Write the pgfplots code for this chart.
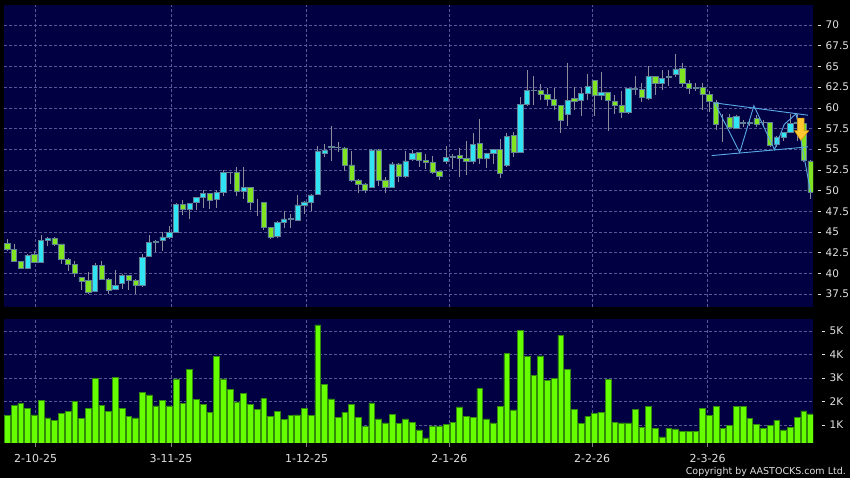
\documentclass[border=0pt]{standalone}
\usepackage{fontspec}
\setmainfont{DejaVu Sans}
\usepackage{pgfplots}
\usepackage{pgfplotstable}
\pgfplotsset{compat=1.18}

\definecolor{navy}{RGB}{0,0,66}
\definecolor{upc}{RGB}{48,228,244}
\definecolor{dnc}{RGB}{128,228,32}
\definecolor{edge}{RGB}{96,128,150}
\definecolor{wick}{RGB}{140,140,155}
\definecolor{gridc}{RGB}{88,88,150}
\definecolor{volc}{RGB}{102,255,0}
\definecolor{voledge}{RGB}{50,140,10}
\definecolor{patc}{RGB}{90,170,230}
\definecolor{labc}{RGB}{225,225,225}
\definecolor{arrowc}{RGB}{255,200,50}
\definecolor{arrowedge}{RGB}{210,140,0}

% i, open, high, low, close, volume (K)
\pgfplotstableread{
i o h l c v
0 43.67 44.15 42.66 42.86 1.41
1 42.94 43.59 41.40 41.45 1.84
2 41.49 41.55 40.50 40.60 1.92
3 40.60 42.30 40.50 42.22 1.71
4 42.30 42.74 41.30 41.33 1.43
5 41.33 44.64 41.25 44.03 2.04
6 43.99 44.40 43.27 44.27 1.30
7 44.27 44.44 43.35 43.51 1.21
8 43.55 43.60 41.13 41.73 1.50
9 41.73 41.80 40.32 41.05 1.58
10 41.13 41.53 39.56 40.04 2.01
11 39.56 39.60 38.02 39.03 1.28
12 39.15 40.20 37.54 37.70 1.72
13 37.82 41.25 37.70 41.01 2.99
14 41.01 41.53 39.23 39.31 1.84
15 39.31 39.40 37.54 37.94 1.58
16 38.10 40.44 38.00 38.59 3.01
17 38.83 39.90 38.10 39.72 1.70
18 39.72 39.75 38.02 39.15 1.37
19 39.15 39.30 37.54 38.51 1.30
20 38.51 42.33 38.40 41.94 2.39
21 42.10 44.60 42.00 43.74 2.28
22 43.75 44.00 42.60 43.85 1.81
23 43.95 44.95 42.75 44.40 2.06
24 44.31 45.70 44.20 44.94 1.81
25 44.94 48.50 44.90 48.33 2.96
26 48.31 48.83 47.10 47.70 1.92
27 47.70 48.50 46.53 48.43 3.38
28 48.55 49.20 47.70 49.15 2.09
29 49.15 50.12 47.94 49.64 1.88
30 49.64 49.70 47.74 48.79 1.55
31 48.91 50.04 47.94 49.76 3.91
32 49.76 52.46 49.30 52.18 2.96
33 52.20 52.30 50.77 52.24 2.50
34 52.18 52.82 49.35 49.88 1.98
35 49.88 52.82 48.99 50.36 2.33
36 50.36 50.40 47.62 48.55 1.88
37 48.55 48.95 46.94 48.55 1.68
38 48.55 48.60 45.20 45.52 2.13
39 45.52 45.60 44.20 44.40 1.35
40 44.43 46.30 44.30 46.17 1.57
41 46.13 47.58 45.50 46.57 1.24
42 46.55 47.18 45.50 46.62 1.40
43 46.45 49.48 46.30 48.27 1.43
44 48.27 48.80 47.18 48.63 1.72
45 48.63 49.60 47.50 49.48 1.41
46 49.60 55.40 49.50 54.80 5.26
47 54.52 55.65 54.03 54.92 2.74
48 55.25 57.86 53.63 55.30 2.11
49 55.20 55.93 54.64 55.25 1.31
50 55.16 55.30 52.42 53.10 1.55
51 53.10 54.84 51.00 51.21 1.88
52 51.29 51.40 49.72 50.81 1.33
53 50.81 50.93 49.72 50.00 0.93
54 50.40 55.00 50.30 54.92 1.94
55 54.92 55.00 50.60 51.21 1.26
56 51.29 51.60 49.72 50.40 1.09
57 50.40 53.50 50.30 53.23 1.45
58 53.23 53.30 51.00 51.73 1.06
59 51.73 54.84 51.50 53.59 1.26
60 53.75 54.90 53.60 54.48 1.11
61 54.60 54.70 52.86 53.63 0.79
62 53.67 54.40 52.58 53.39 0.45
63 53.39 54.20 52.06 52.18 0.96
64 52.34 52.40 51.25 51.77 0.93
65 53.56 55.36 53.19 54.03 1.01
66 54.00 54.40 52.60 54.10 1.11
67 54.23 55.20 51.65 53.85 1.77
68 53.90 55.97 51.85 53.51 1.35
69 53.55 56.90 53.27 55.56 1.33
70 55.69 58.63 53.27 53.87 2.56
71 53.87 54.60 52.74 54.48 1.26
72 54.44 55.00 53.19 54.96 1.09
73 54.96 56.29 51.57 52.14 1.78
74 53.02 56.90 52.90 56.57 4.04
75 56.65 57.10 54.00 54.60 1.64
76 54.60 61.25 54.50 60.40 5.01
77 60.40 64.56 60.20 62.10 3.91
78 62.05 63.83 60.32 62.15 3.10
79 62.10 62.90 61.00 61.60 3.94
80 61.63 62.43 60.22 61.06 2.89
81 61.06 62.40 59.75 60.26 2.97
82 60.26 60.30 56.92 58.53 4.82
83 59.25 65.37 57.80 60.91 3.38
84 61.13 62.46 59.72 60.81 1.68
85 60.89 62.34 59.03 61.73 1.06
86 61.73 64.07 60.93 62.54 1.37
87 63.31 63.35 59.03 61.45 1.51
88 61.49 64.27 60.93 61.85 1.54
89 61.85 61.90 57.22 60.89 2.93
90 60.77 61.60 59.27 60.28 1.11
91 60.28 62.00 58.80 59.40 1.09
92 59.40 62.40 59.30 62.38 1.09
93 62.20 63.83 61.53 62.30 1.68
94 62.22 62.94 60.73 61.25 0.90
95 61.13 65.04 61.00 63.75 1.78
96 63.75 63.80 61.53 62.94 0.87
97 62.94 64.56 62.14 63.55 0.49
98 63.70 64.56 62.66 63.80 0.84
99 64.03 66.49 63.75 64.70 0.83
100 64.76 65.36 62.46 62.94 0.72
101 62.94 63.30 61.70 62.34 0.72
102 62.45 63.00 62.00 62.40 0.72
103 62.42 62.94 59.72 61.65 1.72
104 61.61 62.00 59.50 60.73 1.41
105 60.60 60.90 57.30 58.02 1.78
106 58.10 59.30 55.90 58.10 0.87
107 58.83 59.30 57.50 57.62 0.99
108 57.50 59.10 57.40 58.91 1.78
109 58.20 58.50 57.70 58.15 1.79
110 58.15 58.60 57.80 58.25 1.28
111 58.71 59.10 57.70 58.02 1.03
112 58.25 58.50 57.80 58.20 0.84
113 58.19 58.30 55.30 55.48 0.99
114 55.60 56.60 55.30 56.49 1.21
115 56.49 57.10 56.00 57.02 0.79
116 57.02 59.23 56.90 58.10 0.90
117 58.30 59.20 56.00 58.10 1.33
118 58.10 58.20 53.50 53.67 1.60
119 53.59 53.70 49.03 49.84 1.47
}\stock

\newcommand\tk{\rule[3.4pt]{3pt}{0.7pt}\hspace{4.5pt}}

\pgfplotsset{
  panel/.style={at={(4pt,171pt)}, anchor=south west, scale only axis,
    width=809pt, height=302pt,
    xmin=-0.49, xmax=119.36, ymin=35.94, ymax=72.42},
  dashgrid/.style={grid=major,
    grid style={gridc, line width=0.6pt, dash pattern=on 2.5pt off 2.5pt}},
}

\begin{document}
\begin{tikzpicture}[x=1pt,y=1pt]
\fill[black] (0,0) rectangle (850,478);

% price panel: background, grid, wicks
\begin{axis}[panel, dashgrid,
  axis background/.style={fill=navy},
  axis line style={draw=none},
  tick style={draw=none},
  xtick={4.2,24.25,44.35,65.5,86.65,103.75},
  xticklabels={},
  ytick={37.5,40,42.5,45,47.5,50,52.5,55,57.5,60,62.5,65,67.5,70},
  yticklabels={\tk 37.5,\tk 40,\tk 42.5,\tk 45,\tk 47.5,\tk 50,\tk 52.5,\tk 55,\tk 57.5,\tk 60,\tk 62.5,\tk 65,\tk 67.5,\tk 70},
  yticklabel pos=right,
  yticklabel style={anchor=west, inner sep=0pt, xshift=5pt, text=labc,
    font=\fontsize{10.5}{12}\selectfont},
]
\addplot[wick, line width=1pt, quiver={u=0, v=\thisrow{h}-\thisrow{l}}]
  table[x=i, y=l] {\stock};
\end{axis}

% candle bodies
\begin{axis}[panel, axis lines=none, ybar stacked, bar width=5.3pt]
\addplot[draw=none, fill=none] table[x=i, y expr={min(\thisrow{o},\thisrow{c})}] {\stock};
\addplot[fill=upc, draw=edge, line width=0.7pt] table[x=i, y expr={max(\thisrow{c}-\thisrow{o},0)}] {\stock};
\addplot[fill=dnc, draw=edge, line width=0.7pt] table[x=i, y expr={max(\thisrow{o}-\thisrow{c},0)}] {\stock};
\end{axis}

% wedge pattern and signal arrow
\begin{axis}[panel, axis lines=none]
\addplot[patc, line width=0.9pt] coordinates {(104.74,60.6) (118.6,59.11)};
\addplot[patc, line width=0.9pt] coordinates {(104.35,54.23) (118.6,55.28)};
\addplot[patc, line width=0.9pt] coordinates {
  (104.8,60.6) (108.5,54.6) (110.6,60.25) (113.65,54.95)
  (115.1,58.0) (116.85,59.27) (119.0,49.84)};
\addplot[fill=arrowc, draw=arrowedge, line width=0.5pt] coordinates {
  (117.05,58.75) (118.05,58.75) (118.05,57.25) (118.75,57.25)
  (117.55,56.05) (116.6,57.25) (117.05,57.25)} -- cycle;
\end{axis}

% volume panel
\begin{axis}[at={(4pt,35pt)}, anchor=south west, scale only axis,
  width=809pt, height=124pt,
  xmin=-0.49, xmax=119.36, ymin=0.234, ymax=5.51,
  dashgrid,
  axis background/.style={fill=navy},
  axis line style={draw=none},
  ybar, bar width=5.8pt,
  xtick={4.2,24.25,44.35,65.5,86.65,103.75},
  xticklabels={2-10-25,3-11-25,1-12-25,2-1-26,2-2-26,2-3-26},
  xtick pos=left, tick align=outside, major tick length=4pt,
  xtick style={draw=gray, line width=0.7pt},
  ytick style={draw=none},
  xticklabel style={anchor=north, inner sep=0pt, yshift=-7pt, text=labc,
    font=\fontsize{11}{13}\selectfont},
  ytick={1,2,3,4,5},
  yticklabels={\tk 1K,\tk 2K,\tk 3K,\tk 4K,\tk 5K},
  yticklabel pos=right,
  yticklabel style={anchor=west, inner sep=0pt, xshift=5pt, text=labc,
    font=\fontsize{10.5}{12}\selectfont},
]
\addplot[fill=volc, draw=voledge, line width=0.6pt] table[x=i, y=v] {\stock};
\end{axis}

\node[anchor=base east, inner sep=0pt, text=labc, font=\fontsize{9.5}{11}\selectfont]
  at (846,3.7) {Copyright by AASTOCKS.com Ltd.};
\end{tikzpicture}
\end{document}
